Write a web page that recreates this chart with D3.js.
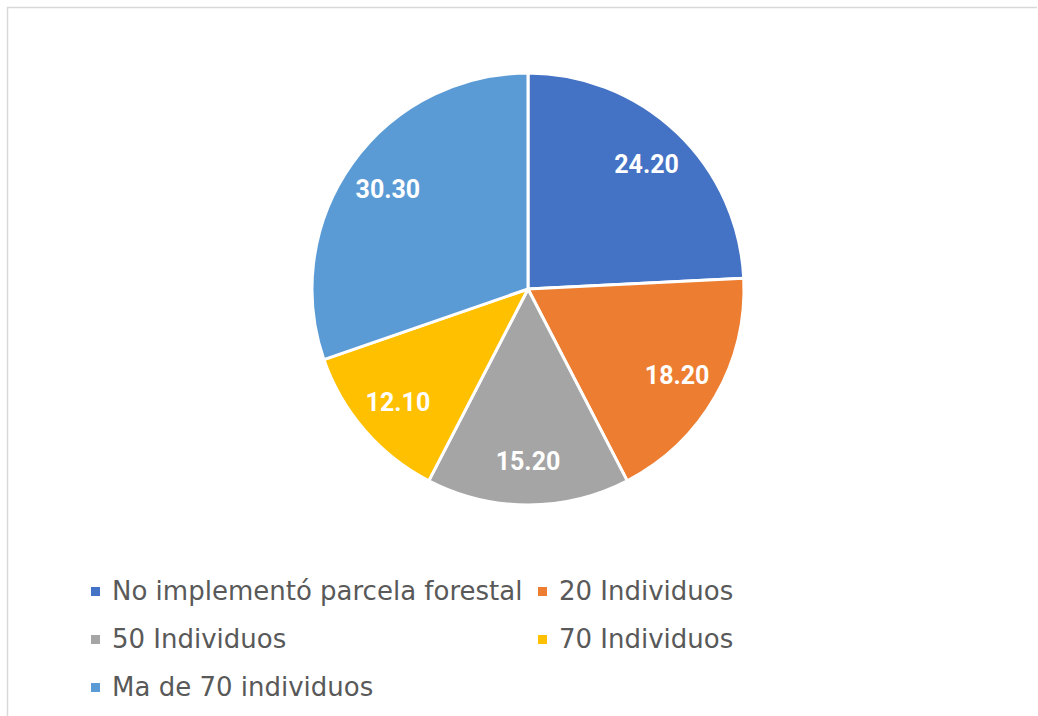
<!DOCTYPE html>
<html>
<head>
<meta charset="utf-8">
<script src="https://cdn.jsdelivr.net/npm/d3@7"></script>
<style>
html,body{margin:0;padding:0;background:#fff;}
svg{display:block;}
</style>
</head>
<body>
<script>
const categories = ["No implementó parcela forestal", "20 Individuos", "50 Individuos", "70 Individuos", "Ma de 70 individuos"];
const values = [24.20, 18.20, 15.20, 12.10, 30.30];
const colors = ["#4472C4", "#ED7D31", "#A5A5A5", "#FFC000", "#5B9BD5"];

const W = 1038, H = 716;
const svg = d3.select("body").append("svg").attr("width", W).attr("height", H);

// chart border
svg.append("path")
  .attr("d", "M7.5,716 L7.5,7.5 L1037,7.5")
  .attr("fill", "none").attr("stroke", "#d9d9d9").attr("stroke-width", 1.5);

const cx = 528, cy = 289, R = 216;
const data = categories.map((c, i) => ({cat: c, val: values[i], color: colors[i]}));
const pie = d3.pie().value(d => d.val).sort(null);
const arcs = pie(data);
const arc = d3.arc().innerRadius(0).outerRadius(R);
const labelArc = d3.arc().innerRadius(172).outerRadius(172);

const g = svg.append("g").attr("transform", `translate(${cx},${cy})`);
g.selectAll("path.slice").data(arcs).enter().append("path")
  .attr("class", "slice")
  .attr("d", arc)
  .attr("fill", d => d.data.color)
  .attr("stroke", "#fff").attr("stroke-width", 3).attr("stroke-linejoin", "round");

g.selectAll("text.lbl").data(arcs).enter().append("text")
  .attr("class", "lbl")
  .attr("transform", d => `translate(${labelArc.centroid(d)})`)
  .attr("text-anchor", "middle").attr("dy", "0.36em")
  .attr("font-family", "Roboto, 'Liberation Sans', sans-serif").attr("font-weight", "bold")
  .attr("font-size", 25).attr("fill", "#fff")
  .text(d => d.data.val.toFixed(2));

// legend
const legX = [91, 538];
const legY0 = 600, legDy = 48;
const leg = svg.append("g");
data.forEach((d, i) => {
  const col = i % 2, row = Math.floor(i / 2);
  const x = legX[col], y = legY0 + row * legDy;
  leg.append("rect").attr("x", x).attr("y", y - 13).attr("width", 9).attr("height", 9).attr("fill", d.color);
  leg.append("text").attr("x", x + 21).attr("y", y)
    .attr("font-family", "'DejaVu Sans', sans-serif").attr("font-size", 26)
    .attr("fill", "#595959").text(d.cat);
});
</script>
</body>
</html>
